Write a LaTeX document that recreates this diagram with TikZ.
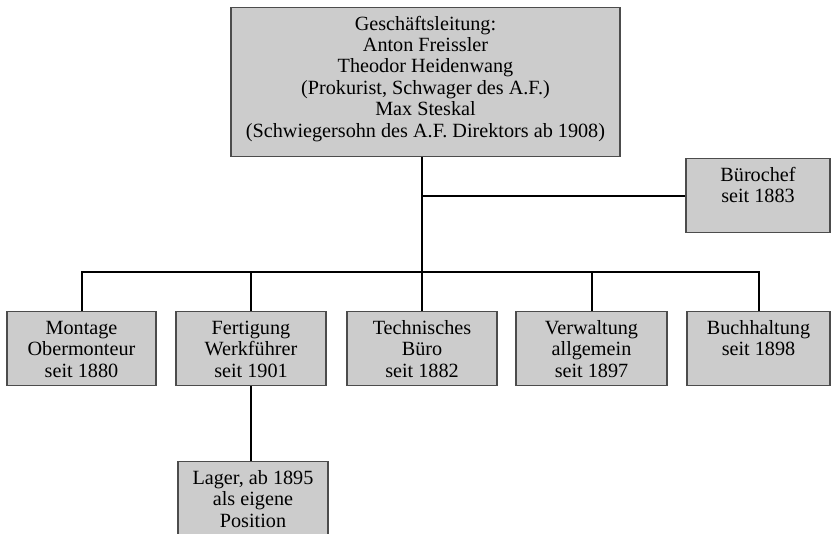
\documentclass[tikz,border=0pt]{standalone}
\usepackage{fontspec}
\setmainfont{Liberation Serif}
\newcommand{\orgtext}[3]{\parbox[t][#2][t]{#1}{\centering\rule{0pt}{22.5pt}#3}}

\begin{document}
\begin{tikzpicture}[x=1pt, y=1pt]
        \clip (0,0) rectangle (832,-534);
        \tikzset{orgbox/.style={
        draw=black!70, fill=black!20, line width=1.4pt, inner sep=0pt,
        anchor=north, font=\fontsize{20.2}{21.4}\selectfont},
        link/.style={line width=2pt}}

        \node[orgbox] (leitung) at (425.5,-7) {\orgtext{389pt}{149pt}{Geschäftsleitung:\\
        Anton Freissler\\Theodor Heidenwang\\(Prokurist, Schwager des A.F.)\\
        Max Steskal\\(Schwiegersohn des A.F. Direktors ab 1908)}};
        \node[orgbox] (buero) at (758,-158) {\orgtext{144pt}{74pt}{Bürochef\\seit 1883}};

        \node[orgbox] (montage) at (81.5,-311) {\orgtext{149pt}{74pt}{Montage\\Obermonteur\\seit 1880}};
        \node[orgbox] (fertigung) at (251,-311) {\orgtext{150pt}{74pt}{Fertigung\\Werkführer\\seit 1901}};
        \node[orgbox] (technik) at (422,-311) {\orgtext{150pt}{74pt}{Technisches\\Büro\\seit 1882}};
        \node[orgbox] (verwaltung) at (591.5,-311) {\orgtext{151pt}{74pt}{Verwaltung\\allgemein\\seit 1897}};
        \node[orgbox] (buchhaltung) at (758.5,-311) {\orgtext{143pt}{74pt}{Buchhaltung\\seit 1898}};
        \node[orgbox] (lager) at (253,-461) {\orgtext{150pt}{74pt}{Lager, ab 1895\\als eigene\\Position}};

        \coordinate (bus) at (0,-272);
        \draw[link] (leitung.south -| technik.north) -- (technik.north);
        \draw[link] (buero.west) -- (buero.west -| technik.north);
        \draw[link] (montage.north) -- (montage.north |- bus) -- (buchhaltung.north |- bus) -- (buchhaltung.north);
        \foreach \n in {fertigung, verwaltung}
        \draw[link] (\n.north) -- (\n.north |- bus);
        \draw[link] (fertigung.south) -- (lager.north -| fertigung.south);
\end{tikzpicture}
\end{document}
